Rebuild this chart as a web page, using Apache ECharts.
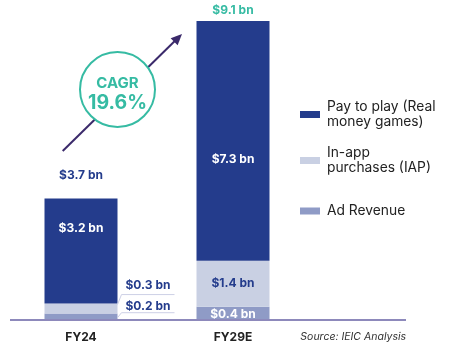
<!DOCTYPE html>
<html>
<head>
<meta charset="utf-8">
<script src="https://cdn.jsdelivr.net/npm/echarts@6/dist/echarts.min.js"></script>
<style>
html,body{margin:0;padding:0;background:#fff;}
#c{width:453px;height:355px;}
</style>
</head>
<body>
<div id="c"></div>
<script>
var categories = ['FY24', 'FY29E'];
var adRevenue = [0.2, 0.4];
var inAppPurchases = [0.3, 1.4];
var payToPlay = [3.2, 7.3];
var totals = [3.7, 9.1];
var cagrText = 'CAGR';
var cagrValue = '19.6%';
var seriesNames = ['Pay to play (Real\nmoney games)', 'In-app\npurchases (IAP)', 'Ad Revenue'];
var sourceText = 'Source: IEIC Analysis';

var C_PAY = '#243c8c', C_IAP = '#c9d0e3', C_AD = '#8f9bc6', TEAL = '#36bba3', ARROW = '#3b2a6b';
var FONT = 'Inter';
function bn(v) { return '$' + v.toFixed(1) + ' bn'; }
var lblBase = { fontFamily: FONT, fontWeight: 'bold', fontSize: 12 };

var chart = echarts.init(document.getElementById('c'), null, { renderer: 'canvas' });

function legendAt(name, top) {
  return {
    data: [name], orient: 'vertical', left: 300, top: top, padding: 0,
    itemWidth: 20, itemHeight: 7, icon: 'rect', selectedMode: false,
    textStyle: { fontFamily: FONT, fontSize: 13.8, lineHeight: 15, color: '#222', padding: [0, 0, 0, 2] }
  };
}

var adData = adRevenue.map(function (v, i) {
  return i === 0
    ? { value: v, label: { show: true, position: 'right', distance: 8, offset: [0, -10], color: C_PAY } }
    : { value: v, label: { show: true, position: 'inside', offset: [0, 1], color: '#fff' } };
});
var iapData = inAppPurchases.map(function (v, i) {
  return i === 0
    ? { value: v, label: { show: true, position: 'right', distance: 8, offset: [0, -23], color: C_PAY } }
    : { value: v, label: { show: true, position: 'inside', color: C_PAY } };
});
var payData = payToPlay.map(function (v, i) {
  return { value: v, label: { show: true, position: 'inside', offset: [0, i === 0 ? -23 : 18.5], color: '#fff' } };
});
var totalData = totals.map(function (v, i) {
  return { value: v, label: { show: true, position: 'top', distance: i === 0 ? 17 : 5, color: i === 0 ? C_PAY : TEAL, opacity: 1 } };
});

var option = {
  animation: false,
  backgroundColor: '#fff',
  textStyle: { fontFamily: FONT },
  grid: { left: 5, width: 304, top: 21, bottom: 35 },
  legend: [legendAt(seriesNames[0], 99.5), legendAt(seriesNames[1], 145.5), legendAt(seriesNames[2], 203.5)],
  xAxis: {
    type: 'category', data: categories,
    axisLine: { show: false }, axisTick: { show: false },
    axisLabel: { margin: 11, fontFamily: FONT, fontWeight: 'bold', fontSize: 12, color: '#222' }
  },
  yAxis: { type: 'value', min: 0, max: 9.1, show: false, splitLine: { show: false } },
  series: [
    { name: seriesNames[2], type: 'bar', stack: 'a', barWidth: 73, itemStyle: { color: C_AD },
      label: Object.assign({ formatter: function (p) { return bn(p.value); } }, lblBase), data: adData },
    { name: seriesNames[1], type: 'bar', stack: 'a', barWidth: 73, itemStyle: { color: C_IAP },
      label: Object.assign({ formatter: function (p) { return bn(p.value); } }, lblBase), data: iapData },
    { name: seriesNames[0], type: 'bar', stack: 'a', barWidth: 73, itemStyle: { color: C_PAY },
      label: Object.assign({ formatter: function (p) { return bn(p.value); } }, lblBase), data: payData },
    { name: 'Total', type: 'scatter', symbolSize: 0, silent: true, z: 5, itemStyle: { opacity: 1 },
      label: Object.assign({ formatter: function (p) { return bn(p.value); } }, lblBase), data: totalData }
  ]
};
chart.setOption(option);

// decorations computed from the axes
var yAxisPx = chart.convertToPixel({ yAxisIndex: 0 }, 0);
var x0 = chart.convertToPixel({ xAxisIndex: 0 }, categories[0]);
var xr = x0 + 36.5;
var yIapTop = chart.convertToPixel({ yAxisIndex: 0 }, adRevenue[0] + inAppPurchases[0]);
var yAdMid = chart.convertToPixel({ yAxisIndex: 0 }, adRevenue[0] / 2);

// arrow
var a0 = [62.7, 151], a1 = [182, 34];
var dx = a1[0] - a0[0], dy = a1[1] - a0[1], L = Math.sqrt(dx * dx + dy * dy);
var ux = dx / L, uy = dy / L, nx = -uy, ny = ux;
var bx = a1[0] - ux * 11, by = a1[1] - uy * 11;

chart.setOption({
  graphic: [
    { type: 'line', shape: { x1: 10, y1: yAxisPx, x2: 406, y2: yAxisPx }, style: { stroke: '#8d89bb', lineWidth: 2 }, z: 10 },
    { type: 'polyline', shape: { points: [[xr, yIapTop + 1], [xr + 4, yIapTop - 9], [xr + 57, yIapTop - 9]] }, style: { stroke: '#cdd0e6', lineWidth: 1, fill: null }, z: 10 },
    { type: 'polyline', shape: { points: [[xr, yAdMid + 1], [xr + 4, yAdMid - 4], [xr + 57, yAdMid - 4]] }, style: { stroke: '#cdd0e6', lineWidth: 1, fill: null }, z: 10 },
    { type: 'line', shape: { x1: a0[0], y1: a0[1], x2: bx + ux * 2, y2: by + uy * 2 }, style: { stroke: ARROW, lineWidth: 2 }, z: 10 },
    { type: 'polygon', shape: { points: [[a1[0], a1[1]], [bx + nx * 5, by + ny * 5], [bx - nx * 5, by - ny * 5]] }, style: { fill: ARROW }, z: 10 },
    { type: 'circle', shape: { cx: 117.5, cy: 89.5, r: 37.5 }, style: { fill: '#fff', stroke: TEAL, lineWidth: 2 }, z: 11 },
    { type: 'text', x: 117.5, y: 83, z: 12, style: { text: cagrText, fill: TEAL, font: 'bold 15px Inter', align: 'center', verticalAlign: 'middle' } },
    { type: 'text', x: 117.5, y: 103, z: 12, style: { text: cagrValue, fill: TEAL, font: 'bold 19.5px Inter', align: 'center', verticalAlign: 'middle' } },
    { type: 'text', x: 406, y: 337, z: 12, style: { text: sourceText, fill: '#333', font: 'italic 10.5px Inter', align: 'right', verticalAlign: 'middle' } }
  ]
});
</script>
</body>
</html>
